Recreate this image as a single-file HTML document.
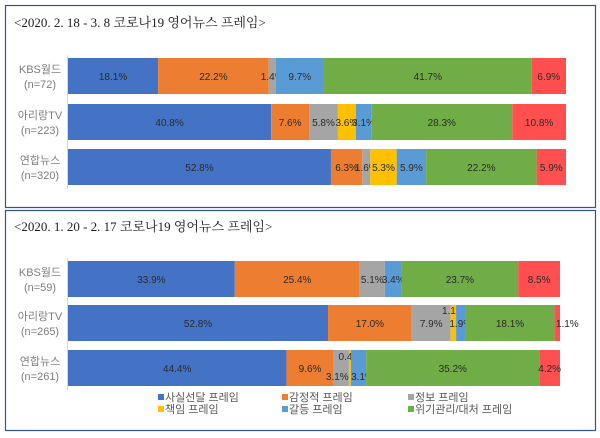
<!DOCTYPE html>
<html><head><meta charset="utf-8">
<style>
html,body{margin:0;padding:0;background:#fff;}
svg{display:block;font-family:"Liberation Sans","Noto Sans CJK KR",sans-serif;}
.t{font-family:"Liberation Serif","Noto Serif CJK SC",serif;font-size:13px;fill:#222;}
.c{font-size:11px;fill:#7f7f7f;}
.v{font-size:10px;fill:#2b2b2b;}
.l{font-size:11px;fill:#595959;}
</style></head>
<body>
<svg id="chart" width="600" height="438" viewBox="0 0 600 438" xmlns="http://www.w3.org/2000/svg">
<rect x="5.5" y="5.5" width="590" height="202" fill="none" stroke="#2f5597" stroke-width="1.2"/>
<rect x="5.5" y="210.5" width="590" height="220" fill="none" stroke="#2f5597" stroke-width="1.2"/>
<text class="t" x="14" y="27">&lt;2020. 2. 18 - 3. 8 코로나19 영어뉴스 프레임&gt;</text>
<text class="t" x="14" y="231">&lt;2020. 1. 20 - 2. 17 코로나19 영어뉴스 프레임&gt;</text>
<g id="g"></g>
</svg>
<script>
const categories = ["KBS월드", "아리랑TV", "연합뉴스"];
const topCounts = ["(n=72)", "(n=223)", "(n=320)"];
const bottomCounts = ["(n=59)", "(n=265)", "(n=261)"];
const frames = ["사실선달 프레임", "감정적 프레임", "정보 프레임", "책임 프레임", "갈등 프레임", "위기관리/대처 프레임", "기타"];
const colors = ["#4472c4", "#ed7d31", "#a5a5a5", "#ffc000", "#5b9bd5", "#70ad47", "#ff4f4f"];
const topValues = [
  [18.1, 22.2, 1.4, 0, 9.7, 41.7, 6.9],
  [40.8, 7.6, 5.8, 3.6, 3.1, 28.3, 10.8],
  [52.8, 6.3, 1.6, 5.3, 5.9, 22.2, 5.9]
];
const bottomValues = [
  [33.9, 25.4, 5.1, 0, 3.4, 23.7, 8.5],
  [52.8, 17.0, 7.9, 1.1, 1.9, 18.1, 1.1],
  [44.4, 9.6, 3.1, 0.4, 3.1, 35.2, 4.2]
];
const NS = "http://www.w3.org/2000/svg";
const g = document.getElementById("g");
function mk(tag, attrs, txt){
  const e = document.createElementNS(NS, tag);
  for (const k in attrs) e.setAttribute(k, attrs[k]);
  if (txt !== undefined) e.textContent = txt;
  g.appendChild(e);
  return e;
}
// label offsets for crowded labels: [panel,row,seg] -> [dx,dy]
const offsets = {"1-1-3":[0,-13],"1-1-6":[10,0],"1-2-2":[-4,8],"1-2-3":[0,-12],"1-2-4":[4,8]};
function panel(p, values, counts, x0, x1, rowTops, barH){
  const xScale = v => x0 + (x1 - x0) * v / 100;
  const ax = mk("line",{x1:x0-0.5,x2:x0-0.5,y1:rowTops[0]-3,y2:rowTops[2]+barH+4,stroke:"#d9d9d9","stroke-width":1});
  
  
  values.forEach((row, r) => {
    const total = row.reduce((a,b)=>a+b,0);
    const y = rowTops[r];
    const l1 = mk("text",{class:"c",x:40,y:y+barH/2-3,"text-anchor":"middle"},categories[r]);
    
    
    const l2 = mk("text",{class:"c",x:40,y:y+barH/2+12,"text-anchor":"middle"},counts[r]);
    
    
    let acc = 0;
    row.forEach((v, s) => {
      if (v <= 0) return;
      const xa = xScale(acc/total*100), xb = xScale((acc+v)/total*100);
      acc += v;
      const rc = mk("rect",{x:xa,y:y,width:xb-xa,height:barH,fill:colors[s]});
      
      
      const off = offsets[p+"-"+r+"-"+s] || [0,0];
      const tx = mk("text",{class:"v",x:(xa+xb)/2+off[0],y:y+barH/2+4+off[1],"text-anchor":"middle"},v.toFixed(1)+"%");
      
      
    });
  });
}
panel(0, topValues, topCounts, 68, 566, [58,104,149], 36);
panel(1, bottomValues, bottomCounts, 68, 560, [261,305,350], 36);
// legend
const legX = [158, 282, 408];
const legY = [398, 410];
const legOrder = [0,1,2,3,4,5];
legOrder.forEach((s, i) => {
  const x = legX[i%3], y = legY[Math.floor(i/3)];
  const sq = mk("rect",{x:x,y:y-4,width:6,height:6,fill:colors[s]});
  
  
  const t = mk("text",{class:"l",x:x+7,y:y+3},frames[s]);
  
  
});
</script>
</body></html>
